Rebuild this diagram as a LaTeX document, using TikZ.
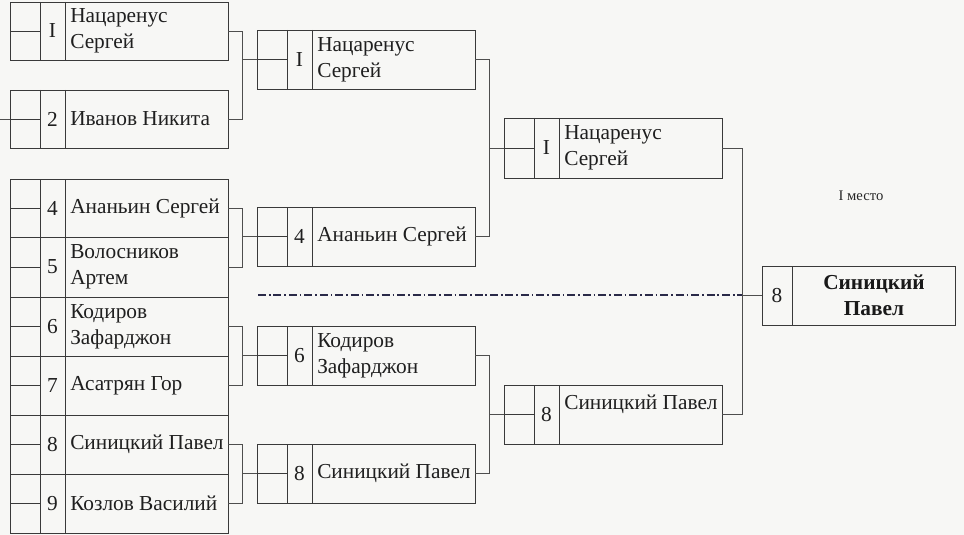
\documentclass[tikz,border=0pt]{standalone}
\usepackage{fontspec}
\setmainfont{Liberation Serif}
\usetikzlibrary{calc}
\definecolor{ink}{HTML}{3A3A3A}
\definecolor{paper}{HTML}{F7F7F5}
\definecolor{dashink}{HTML}{2A2A48}
\newcommand\entry[6]{%
  \pgfmathsetmacro\hh{(#4-#3)*0.75}%
  \node[pbox, minimum height=\hh pt] (#1) at ({#2+109},{(#3+#4)/2}) {};
  \draw[cell] ($(#1.north west)+(30,0)$) -- ($(#1.south west)+(30,0)$);
  \draw[cell] ($(#1.north west)+(55,0)$) -- ($(#1.south west)+(55,0)$);
  \draw[cell] (#1.west) -- ($(#1.west)+(30,0)$);
  \node[numtxt] (#1n) at ($(#1.west)+(42.5,0)$) {#5};
  \node[nametxt] (#1t) at ($(#1.west)+(60,0)$) {#6};
}
\begin{document}
\begin{tikzpicture}[x=0.75pt,y=-0.75pt,
  pbox/.style={draw=ink, line width=0.7pt, rectangle, minimum width=163.5pt, inner sep=0pt, outer sep=0pt},
  cell/.style={draw=ink, line width=0.6pt},
  conn/.style={draw=ink!90, line width=0.6pt},
  numtxt/.style={font=\fontsize{16}{19.2}\selectfont, inner sep=0pt, text=black!88},
  nametxt/.style={font=\fontsize{16}{19.2}\selectfont, inner sep=0pt, align=left, anchor=west, text=black!88},
  dashdot/.style={draw=dashink, line width=1pt, dash pattern=on 6pt off 2.2pt on 1.2pt off 2.2pt}]
\fill[paper] (0,0) rectangle (964,535);
\useasboundingbox (0,0) rectangle (964,535);
% round 1
\entry{b1}{10}{2}{60}{I}{Нацаренус\\Сергей}
\entry{b2}{10}{90}{148}{2}{Иванов Никита}
\entry{b4}{10}{179}{237}{4}{Ананьин Сергей}
\entry{b5}{10}{237}{297}{5}{Волосников\\Артем}
\entry{b6}{10}{297}{356}{6}{Кодиров\\Зафарджон}
\entry{b7}{10}{356}{415}{7}{Асатрян Гор}
\entry{b8}{10}{415}{474}{8}{Синицкий Павел}
\entry{b9}{10}{474}{533}{9}{Козлов Василий}
% round 2
\entry{c1}{257}{30}{89}{I}{Нацаренус\\Сергей}
\entry{c2}{257}{207}{266}{4}{Ананьин Сергей}
\entry{c3}{257}{326}{385}{6}{Кодиров\\Зафарджон}
\entry{c4}{257}{444}{503}{8}{Синицкий Павел}
% round 3
\entry{d1}{504}{118}{178}{I}{Нацаренус\\Сергей}
\entry{d2}{504}{385}{444}{8}{Синицкий Павел\\\mbox{}}
% final
\node[pbox, minimum width=144.75pt, minimum height=44.25pt] (fin) at (858.5,295.5) {};
\draw[cell] ($(fin.north west)+(30,0)$) -- ($(fin.south west)+(30,0)$);
\node[numtxt] (finn) at ($(fin.west)+(15,0)$) {8};
\node[font=\bfseries\fontsize{16}{19.2}\selectfont, inner sep=0pt, align=center, text=black!90] (fint) at ($(fin.west)+(112,0)$) {Синицкий\\Павел};
\node[font=\fontsize{11}{13}\selectfont, inner sep=0pt, text=black!85] (place) at (861,196) {I место};
% connectors
\coordinate (lft) at (0,119);
\draw[conn] (lft) -- (b2.west);
\draw[conn] (b1.east) -- ++(14,0) coordinate (j1) |- (b2.east);
\draw[conn] (j1 |- c1.west) -- (c1.west);
\draw[conn] (b4.east) -- ++(14,0) coordinate (j2) |- (b5.east);
\draw[conn] (j2 |- c2.west) -- (c2.west);
\draw[conn] (b6.east) -- ++(14,0) coordinate (j3) |- (b7.east);
\draw[conn] (j3 |- c3.west) -- (c3.west);
\draw[conn] (b8.east) -- ++(14,0) coordinate (j4) |- (b9.east);
\draw[conn] (j4 |- c4.west) -- (c4.west);
\draw[conn] (c1.east) -- ++(14,0) coordinate (k1) |- (c2.east);
\draw[conn] (k1 |- d1.west) -- (d1.west);
\draw[conn] (c3.east) -- ++(14,0) coordinate (k2) |- (c4.east);
\draw[conn] (k2 |- d2.west) -- (d2.west);
\draw[conn] (d1.east) -- ++(20,0) coordinate (m1) |- (d2.east);
\draw[conn] (m1 |- fin.west) -- (fin.west);
\coordinate (dd) at (258,295);
\draw[dashdot] (dd) -- (dd -| m1);
\end{tikzpicture}
\end{document}
